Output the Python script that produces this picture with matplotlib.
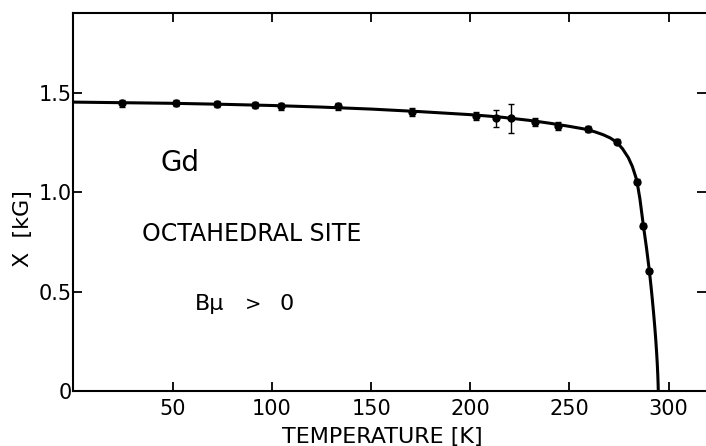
import matplotlib
matplotlib.use("Agg")
import matplotlib.pyplot as plt

# measured data points
temp = [24.4, 51.7, 72.3, 91.5, 104.6, 133.3, 170.8, 202.7, 212.8, 220.7,
        232.6, 244.4, 259.2, 274.1, 283.9, 287.2, 290.1]
field = [1.447, 1.447, 1.442, 1.437, 1.432, 1.430, 1.402, 1.382, 1.370, 1.370,
         1.353, 1.332, 1.315, 1.253, 1.052, 0.831, 0.603]
err = [0.018, 0.015, 0.015, 0.015, 0.018, 0.018, 0.02, 0.02, 0.042, 0.073,
       0.02, 0.02, 0.015, 0.012, 0.012, 0.012, 0.012]

# fitted curve
curve_t = [0, 25, 50, 75, 100, 125, 150, 175, 200, 215, 230, 240, 250, 258,
           263, 267, 270.5, 273.8, 276.7, 279.7, 281.7, 283.9, 285.5, 287.2,
           288.8, 290.2, 291.0, 291.7, 292.4, 293.0, 293.5, 293.9, 294.25,
           294.5, 294.65, 294.75]
curve_x = [1.452, 1.449, 1.446, 1.441, 1.435, 1.427, 1.417, 1.404, 1.389, 1.377,
           1.360, 1.346, 1.330, 1.316, 1.302, 1.288, 1.272, 1.250, 1.218, 1.172,
           1.128, 1.060, 0.965, 0.834, 0.72, 0.608, 0.535, 0.465, 0.39, 0.32,
           0.255, 0.195, 0.135, 0.08, 0.04, 0.0]

xticks = [50, 100, 150, 200, 250, 300]
yticks = [0, 0.5, 1.0, 1.5]
yticklabels = ["0", "0.5", "1.0", "1.5"]

plt.rcParams['font.family'] = ['DejaVu Sans']

fig = plt.figure(figsize=(7.06, 4.46), dpi=100)
ax = fig.add_axes([0.1041, 0.1233, 0.8959, 0.8476])

ax.plot(curve_t, curve_x, color='black', lw=2.2, solid_capstyle='round',
        solid_joinstyle='round')
ax.errorbar(temp, field, yerr=err, fmt='o', color='black', ms=5,
            elinewidth=1.0, capsize=2.5, capthick=1.0)

ax.set_xlim(0, 318.8)
ax.set_ylim(0, 1.9)
ax.set_xticks(xticks)
ax.set_xticklabels([str(t) for t in xticks])
ax.set_yticks(yticks)
ax.set_yticklabels(yticklabels)
ax.tick_params(direction='in', length=6.5, width=1.3, labelsize=15,
               top=True, right=True)
ax.tick_params(axis='x', pad=6)
ax.tick_params(axis='y', pad=1.5)
for s in ax.spines.values():
    s.set_linewidth(1.5)
ax.spines['right'].set_visible(False)

ax.set_xlabel("TEMPERATURE [K]", fontsize=16)
ax.xaxis.set_label_coords(0.488, -0.095)
ax.set_ylabel("X  [kG]", fontsize=16)
ax.yaxis.set_label_coords(-0.064, 0.431)

ax.text(44.1, 1.146, "Gd", fontsize=20, ha='left', va='center')
ax.text(34.5, 0.791, "OCTAHEDRAL SITE", fontsize=17, ha='left', va='center')
ax.text(61.2, 0.435, "B\u03bc", fontsize=16, ha='left', va='center')
ax.text(90.5, 0.435, ">", fontsize=14, ha='center', va='center')
ax.text(107.4, 0.435, "0", fontsize=16, ha='center', va='center')

fig.savefig("out.png", dpi=100)
